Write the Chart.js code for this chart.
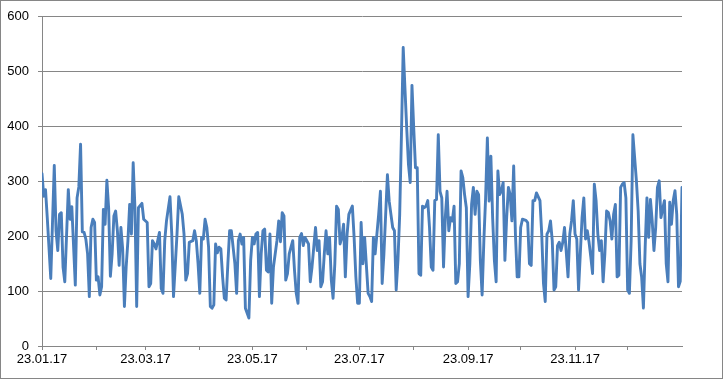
<!DOCTYPE html>
<html>
<head>
<meta charset="utf-8">
<title>Daily chart</title>
<script src="https://cdn.jsdelivr.net/npm/chart.js@4.4.1/dist/chart.umd.min.js"></script>
<style>
    body { margin: 0; background: #fff; }
    canvas { display: block; }
</style>
</head>
<body>
<canvas id="chartDaily" width="723" height="379"></canvas>
<script>
// day number counted from 23.01.17
var days = [
    0, 1, 2, 3, 5, 7, 8, 9, 10, 11,
    12, 13, 15, 16, 17, 19, 20, 21, 22, 23,
    24, 25, 26, 27, 28, 29, 30, 31, 32, 33,
    34, 35, 36, 37, 38, 39, 40, 41, 42, 43,
    44, 45, 46, 47, 48, 49, 50, 51, 52, 53,
    54, 55, 57, 58, 60, 61, 62, 63, 64, 65,
    67, 68, 69, 70, 71, 73, 74, 75, 77, 78,
    80, 81, 82, 83, 84, 86, 87, 88, 89, 90,
    91, 92, 93, 94, 95, 96, 97, 98, 99, 100,
    101, 102, 103, 104, 105, 106, 107, 108, 110, 111,
    112, 113, 114, 115, 116, 118, 119, 120, 121, 122,
    123, 124, 125, 126, 127, 128, 129, 130, 131, 132,
    134, 135, 136, 137, 138, 139, 140, 141, 142, 143,
    144, 145, 146, 147, 148, 149, 150, 152, 153, 154,
    155, 156, 157, 158, 159, 160, 161, 162, 163, 164,
    165, 166, 167, 168, 169, 170, 171, 172, 173, 174,
    175, 177, 178, 179, 180, 181, 182, 183, 184, 186,
    187, 188, 189, 190, 192, 193, 194, 195, 196, 197,
    198, 199, 200, 201, 202, 203, 204, 205, 206, 207,
    208, 209, 210, 211, 212, 213, 214, 215, 216, 217,
    218, 219, 220, 221, 222, 223, 224, 225, 226, 227,
    228, 229, 230, 231, 232, 233, 234, 235, 236, 237,
    238, 239, 240, 241, 242, 243, 244, 245, 246, 247,
    248, 249, 250, 251, 252, 253, 254, 255, 256, 257,
    258, 259, 260, 261, 262, 263, 264, 265, 266, 267,
    268, 269, 270, 271, 272, 273, 274, 276, 277, 278,
    279, 280, 281, 282, 284, 285, 286, 287, 288, 289,
    290, 291, 292, 293, 294, 295, 296, 297, 298, 299,
    300, 301, 302, 303, 304, 305, 306, 307, 308, 309,
    310, 311, 312, 313, 314, 315, 316, 317, 318, 319,
    320, 321, 322, 323, 324, 325, 326, 327, 328, 329,
    330, 331, 332, 333, 334, 335, 336, 337, 338, 339,
    340, 341, 342, 343, 344, 345, 346, 347, 348, 349,
    350, 351, 352, 353, 354, 355, 356, 357, 358, 359,
    360, 361, 362, 363, 364, 365
];

var values = [
    314, 273, 285, 234, 123, 329, 210, 174, 240, 243,
    144, 117, 285, 231, 254, 111, 270, 290, 368, 208,
    207, 195, 168, 90, 216, 231, 225, 120, 126, 93,
    108, 249, 222, 302, 252, 127, 168, 237, 246, 210,
    147, 216, 177, 72, 144, 192, 258, 204, 334, 252,
    72, 252, 260, 231, 225, 108, 114, 192, 186, 177,
    207, 105, 96, 192, 228, 272, 204, 90, 204, 272,
    240, 204, 120, 132, 189, 192, 210, 192, 150, 96,
    198, 195, 231, 216, 180, 72, 69, 75, 186, 170,
    180, 177, 126, 87, 84, 150, 210, 210, 150, 96,
    192, 204, 186, 198, 69, 51, 156, 198, 186, 204,
    207, 90, 168, 210, 213, 138, 135, 204, 78, 144,
    192, 228, 190, 243, 237, 120, 132, 168, 180, 192,
    138, 96, 78, 198, 205, 183, 198, 186, 117, 144,
    180, 216, 174, 192, 108, 117, 168, 210, 168, 198,
    120, 87, 150, 255, 249, 186, 198, 222, 126, 204,
    240, 255, 198, 126, 78, 78, 225, 150, 198, 96,
    90, 81, 198, 168, 240, 282, 114, 168, 240, 312,
    264, 240, 216, 210, 102, 156, 240, 385, 544, 469,
    397, 331, 298, 475, 397, 325, 325, 132, 129, 255,
    252, 255, 265, 216, 144, 138, 265, 267, 385, 282,
    270, 144, 234, 282, 210, 234, 228, 255, 114, 117,
    150, 319, 307, 276, 252, 90, 150, 258, 289, 240,
    282, 276, 156, 93, 192, 270, 379, 264, 346, 234,
    156, 117, 319, 276, 283, 298, 156, 234, 289, 276,
    228, 328, 204, 126, 126, 216, 231, 229, 225, 150,
    147, 265, 265, 279, 265, 204, 114, 81, 204, 210,
    228, 192, 102, 108, 183, 189, 174, 189, 216, 171,
    126, 204, 228, 265, 204, 195, 102, 168, 234, 270,
    195, 210, 189, 162, 132, 295, 265, 204, 174, 192,
    117, 168, 246, 243, 228, 195, 240, 258, 126, 129,
    289, 295, 298, 270, 102, 96, 192, 385, 343, 301,
    246, 150, 125, 69, 180, 270, 198, 267, 228, 174,
    216, 289, 301, 234, 250, 265, 150, 117, 262, 222,
    265, 283, 240, 108, 118, 289
];

// ticks on the 23rd of every month, label every second one
var tickDays = [0, 31, 59, 90, 120, 151, 181, 212, 243, 273, 304, 334];
var tickLabels = ['23.01.17', '', '23.03.17', '', '23.05.17', '', '23.07.17', '', '23.09.17', '', '23.11.17', ''];
var xMax = 365;

var yMin = 0;
var yMax = 600;
var yStep = 100;

var lineColor = '#4a7ebb';
var gridColor = '#868686';

function getDailyChart() {
    var ctx = document.getElementById('chartDaily').getContext('2d');

    var points = [];
    for (var i = 0; i < days.length; i++) {
        points.push({ x: days[i], y: values[i] });
    }

    var outerBorder = {
        id: 'outerBorder',
        afterDraw: function (chart) {
            var c = chart.ctx;
            c.save();
            c.strokeStyle = gridColor;
            c.lineWidth = 1;
            c.strokeRect(0.5, 0.5, chart.width - 1, chart.height - 1);
            c.restore();
        }
    };

    var chartDaily = new Chart(ctx, {
        type: 'line',
        data: {
            datasets: [{
                data: points,
                borderColor: lineColor,
                borderWidth: 2.9,
                borderJoinStyle: 'round',
                borderCapStyle: 'round',
                pointRadius: 0,
                tension: 0,
                fill: false
            }]
        },
        options: {
            responsive: false,
            animation: false,
            layout: {
                padding: { left: 0, top: 14, right: 41, bottom: 0 }
            },
            plugins: {
                legend: { display: false },
                tooltip: { enabled: false }
            },
            scales: {
                x: {
                    type: 'linear',
                    min: tickDays[0],
                    max: xMax,
                    afterBuildTicks: function (scale) {
                        scale.ticks = tickDays.map(function (d) { return { value: d }; });
                    },
                    afterFit: function (scale) {
                        scale.height = 33;
                    },
                    grid: {
                        drawOnChartArea: false,
                        drawTicks: true,
                        tickLength: 4,
                        color: gridColor
                    },
                    border: { color: gridColor, width: 1 },
                    ticks: {
                        autoSkip: false,
                        maxRotation: 0,
                        padding: 2,
                        color: '#000',
                        font: { family: 'Liberation Sans', size: 13 },
                        callback: function (value, index) {
                            return tickLabels[index];
                        }
                    }
                },
                y: {
                    min: yMin,
                    max: yMax,
                    afterFit: function (scale) {
                        scale.width = 42;
                    },
                    grid: {
                        color: gridColor,
                        tickLength: 4
                    },
                    border: { color: gridColor, width: 1 },
                    ticks: {
                        stepSize: yStep,
                        padding: 9,
                        color: '#000',
                        font: { family: 'Liberation Sans', size: 13 }
                    }
                }
            }
        },
        plugins: [outerBorder]
    });
}

getDailyChart();
</script>
</body>
</html>
